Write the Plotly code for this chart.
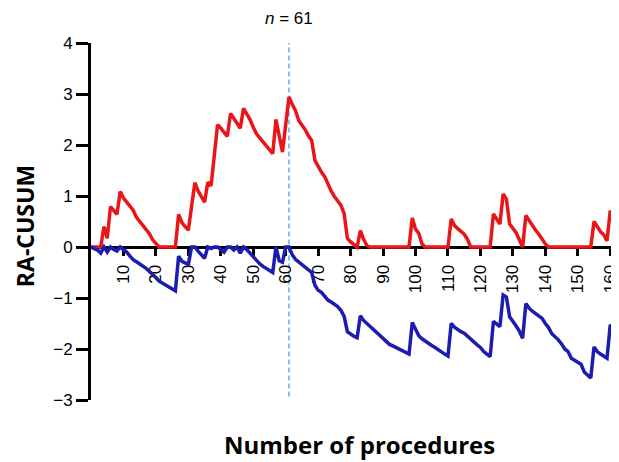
import plotly.graph_objects as go

procedures = list(range(0, 164))

upper_cusum = [
    0, 0, 0, 0, 0.40, 0.17, 0.79, 0.71, 0.64, 1.09,
    0.96, 0.88, 0.80, 0.72, 0.58, 0.50, 0.42, 0.34, 0.26, 0.14,
    0.07, 0, 0, 0, 0, 0, 0, 0.64, 0.48, 0.40,
    0.33, 0.80, 1.26, 1.10, 0.98, 0.88, 1.27, 1.20, 1.80, 2.40,
    2.33, 2.25, 2.17, 2.62, 2.52, 2.43, 2.33, 2.72, 2.62, 2.50,
    2.35, 2.22, 2.14, 2.06, 1.98, 1.90, 1.83, 2.50, 2.15, 1.86,
    2.40, 2.94, 2.80, 2.68, 2.48, 2.40, 2.30, 2.18, 2.09, 1.70,
    1.58, 1.47, 1.38, 1.22, 1.10, 0.99, 0.91, 0.82, 0.66, 0.17,
    0.10, 0.04, 0, 0.32, 0.15, 0.03, 0, 0, 0, 0,
    0, 0, 0, 0, 0, 0, 0, 0, 0, 0.57,
    0.35, 0.27, 0.06, 0, 0, 0, 0, 0, 0, 0,
    0, 0.55, 0.42, 0.36, 0.30, 0.25, 0.15, 0, 0, 0,
    0, 0, 0, 0, 0.65, 0.55, 0.45, 1.04, 0.94, 0.45,
    0.36, 0.28, 0.14, 0, 0.62, 0.52, 0.40, 0.33, 0.25, 0.16,
    0.06, 0, 0, 0, 0, 0, 0, 0, 0, 0,
    0, 0, 0, 0, 0, 0.50, 0.40, 0.30, 0.24, 0.12,
    0.71, 0.63, 0.55, 0.42,
]

lower_cusum = [
    0, -0.03, -0.06, -0.12, 0, -0.10, 0, -0.05, -0.08, 0,
    -0.05, -0.10, -0.18, -0.25, -0.29, -0.33, -0.38, -0.42, -0.48, -0.53,
    -0.60, -0.67, -0.71, -0.75, -0.79, -0.83, -0.86, -0.18, -0.28, -0.31,
    -0.34, 0, 0, -0.08, -0.15, -0.22, 0, -0.03, 0, 0,
    -0.05, -0.10, 0, 0, -0.06, 0, -0.12, 0, -0.05, -0.12,
    -0.20, -0.27, -0.33, -0.38, -0.42, -0.46, -0.50, 0, -0.27, -0.30,
    0, 0, -0.15, -0.24, -0.29, -0.33, -0.39, -0.44, -0.50, -0.75,
    -0.85, -0.89, -0.96, -1.04, -1.08, -1.12, -1.17, -1.24, -1.36, -1.66,
    -1.71, -1.75, -1.78, -1.35, -1.44, -1.50, -1.55, -1.62, -1.68, -1.73,
    -1.80, -1.87, -1.91, -1.94, -1.97, -2.01, -2.04, -2.07, -2.10, -1.48,
    -1.60, -1.74, -1.80, -1.85, -1.89, -1.93, -1.97, -2.02, -2.06, -2.10,
    -2.14, -1.50, -1.57, -1.62, -1.66, -1.69, -1.75, -1.82, -1.87, -1.92,
    -1.97, -2.05, -2.10, -2.15, -1.46, -1.52, -1.56, -0.94, -0.98, -1.37,
    -1.45, -1.55, -1.65, -1.79, -1.11, -1.20, -1.26, -1.30, -1.35, -1.40,
    -1.50, -1.58, -1.70, -1.75, -1.82, -1.90, -2.00, -2.05, -2.18, -2.22,
    -2.27, -2.30, -2.45, -2.52, -2.57, -1.96, -2.05, -2.10, -2.15, -2.18,
    -1.53, -1.58, -1.64, -1.72,
]

x_ticks = [10, 20, 30, 40, 50, 60, 70, 80, 90, 100, 110, 120, 130, 140, 150, 160]
y_ticks = [-3, -2, -1, 0, 1, 2, 3, 4]
marker_n = 61
x_range = [0, 162.7]
y_range = [-3, 4]

tick_font = dict(family="Liberation Sans, Arial, sans-serif", size=17, color="black")
title_font = "Open Sans, sans-serif"

fig = go.Figure()
fig.add_trace(go.Scatter(x=procedures, y=upper_cusum, mode="lines",
                         line=dict(color="#ea1519", width=3.5), showlegend=False))
fig.add_trace(go.Scatter(x=procedures, y=lower_cusum, mode="lines",
                         line=dict(color="#1c1cb0", width=3.5), showlegend=False))

fig.add_shape(type="line", xref="x", yref="y", x0=marker_n, x1=marker_n,
              y0=-2.93, y1=4.02, line=dict(color="#5eacf7", width=1.5, dash="5px,3px"),
              layer="below")

fig.add_annotation(x=marker_n, xref="x", y=1.07, yref="paper",
                   text="<i>n</i> = " + str(marker_n), showarrow=False,
                   xanchor="center", yanchor="middle",
                   font=dict(family="Liberation Sans, Arial, sans-serif", size=17, color="black"))

fig.add_annotation(x=0.508, xref="paper", y=-0.126, yref="paper",
                   text="<b>Number of procedures</b>", showarrow=False,
                   xanchor="center", yanchor="middle",
                   font=dict(family=title_font, size=24, color="black"))

fig.add_annotation(x=-0.125, xref="paper", y=0.487, yref="paper",
                   text="<b>RA-CUSUM</b>", showarrow=False, textangle=-90,
                   xanchor="center", yanchor="middle",
                   font=dict(family=title_font, size=23, color="black"))

fig.update_layout(
    width=619, height=462,
    margin=dict(l=83, r=8, t=35, b=70),
    plot_bgcolor="white", paper_bgcolor="white",
    xaxis=dict(range=x_range, anchor="free", position=3 / 7,
               tickmode="array", tickvals=x_ticks, ticktext=[str(v) for v in x_ticks],
               tickangle=-90, ticks="outside", ticklen=7, tickwidth=3, tickcolor="black",
               ticklabelstandoff=2,
               showline=True, linewidth=3, linecolor="black",
               showgrid=False, zeroline=False, tickfont=tick_font, layer="below traces"),
    yaxis=dict(range=y_range, tickmode="array", tickvals=y_ticks,
               ticks="outside", ticklen=12, tickwidth=3, tickcolor="black",
               showline=True, linewidth=3, linecolor="black",
               showgrid=False, zeroline=False, tickfont=tick_font, layer="below traces"),
)

fig.write_html("out.html")
